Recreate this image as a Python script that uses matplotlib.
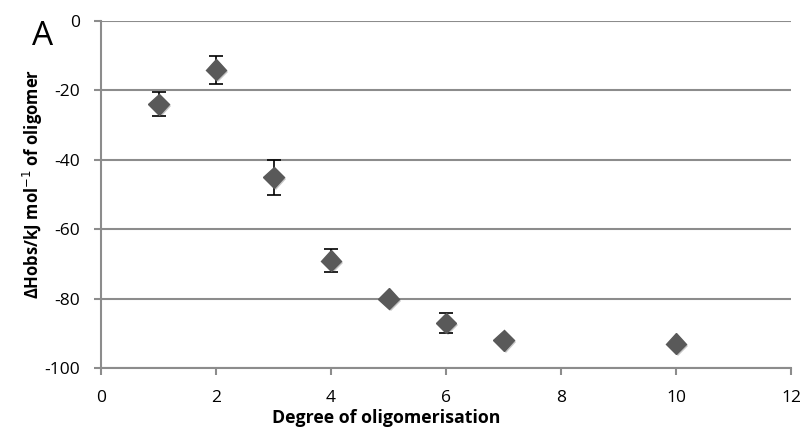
import matplotlib.pyplot as plt
import matplotlib.patheffects as pe

# Datos
grado = [1, 2, 3, 4, 5, 6, 7, 10]
dH = [-24, -14, -45, -69, -80, -87, -92, -93]
error = [3.5, 4, 5, 3.3, 0, 3, 0, 0]

plt.rcParams['font.family'] = ['Open Sans', 'DejaVu Sans']
plt.rcParams['axes.unicode_minus'] = False

fig = plt.figure(figsize=(8.08, 4.30), dpi=100)
ax = fig.add_axes([0.125, 0.144, 0.854, 0.807])

ax.errorbar(grado, dH, yerr=error, fmt='none', ecolor='black', elinewidth=1.2,
            capsize=5, capthick=1.2, zorder=3)
ax.plot(grado, dH, linestyle='none', marker='D', markersize=10.5,
        color='#595959', markeredgecolor='#595959', zorder=4,
        path_effects=[pe.SimplePatchShadow(offset=(1.5, -1.5), alpha=0.25), pe.Normal()])

ax.set_xlim(0, 12)
ax.set_ylim(-100, 0)
ax.set_xticks(range(0, 13, 2))
ax.set_yticks(range(-100, 1, 20))
ax.yaxis.grid(True, color='#8c8c8c', linewidth=1.5)
ax.set_axisbelow(True)

for lado in ['top', 'right']:
    ax.spines[lado].set_visible(False)
for lado in ['left', 'bottom']:
    ax.spines[lado].set_color('#8c8c8c')
    ax.spines[lado].set_linewidth(1.5)

ax.tick_params(axis='x', colors='#8c8c8c', length=5, width=1.5, labelcolor='black',
               labelsize=12.5, pad=11)
ax.tick_params(axis='y', colors='#8c8c8c', length=5, width=1.5, labelcolor='black',
               labelsize=12.5, pad=10)

ax.set_xlabel("Degree of oligomerisation", fontsize=12.8, fontweight='bold')
ax.set_ylabel("ΔHobs/kJ mol$^{-1}$ of oligomer", fontsize=12, fontweight='bold')
ax.xaxis.set_label_coords(0.414, -0.117)
ax.yaxis.set_label_coords(-0.081, 0.53)

fig.text(0.04, 0.895, "A", fontsize=24)

fig.savefig("out.png", dpi=100)
